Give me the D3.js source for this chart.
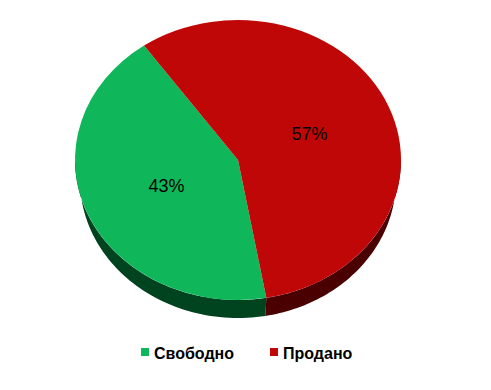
<!DOCTYPE html>
<html>
<head>
<meta charset="utf-8">
<script src="https://cdn.jsdelivr.net/npm/d3@7"></script>
<style>
  body { margin: 0; background: #fff; }
  svg { display: block; font-family: "Liberation Sans", Arial, sans-serif; }
</style>
</head>
<body>
<div id="chart"></div>
<script>
const categories = ['Свободно', 'Продано'];
const values = [43, 57];
const topColors = ['#0fb75a', '#c00707'];
const sideColors = ['#00431f', '#4a0000'];

const width = 491, height = 390;
const cx = 238, cy = 160, rx = 163, ry = 140, depth = 20;
// bottom rim is a bit narrower (perspective), so the wall fades out at the sides
const rxBottom = 158, ryBottom = 138;
const firstSliceAngle = 170;

const svg = d3.select('#chart').append('svg')
  .attr('width', width)
  .attr('height', height);

const pie = d3.pie()
  .sort(null)
  .value(d => d)
  .startAngle(firstSliceAngle * Math.PI / 180)
  .endAngle((firstSliceAngle + 360) * Math.PI / 180);

const slices = pie(values);

// point on ellipse for a d3 angle (0 = top, clockwise)
const px = (a, r = rx) => cx + r * Math.sin(a);
const py = (a, r = ry) => cy - r * Math.cos(a);

// side walls (front half only)
const sides = svg.append('g');
slices.forEach((s, i) => {
  const ranges = [];
  [0, 2 * Math.PI].forEach(off => {
    const lo = Math.max(s.startAngle, Math.PI / 2 + off);
    const hi = Math.min(s.endAngle, 3 * Math.PI / 2 + off);
    if (hi > lo) ranges.push([lo, hi]);
  });
  ranges.forEach(([lo, hi]) => {
    const n = 60;
    const angs = d3.range(n + 1).map(k => lo + (hi - lo) * k / n);
    const p = d3.path();
    angs.forEach((a, k) => k ? p.lineTo(px(a), py(a)) : p.moveTo(px(a), py(a)));
    angs.slice().reverse().forEach(a => p.lineTo(px(a, rxBottom), py(a, ryBottom) + depth));
    p.closePath();
    sides.append('path')
      .attr('d', p.toString())
      .attr('fill', sideColors[i]);
  });
});

// top face
const arc = d3.arc().innerRadius(0).outerRadius(100);
const topFace = svg.append('g')
  .attr('transform', `translate(${cx},${cy}) scale(${rx / 100},${ry / 100})`);
topFace.selectAll('path')
  .data(slices)
  .join('path')
  .attr('d', arc)
  .attr('fill', (d, i) => topColors[i]);

// labels
svg.append('g').selectAll('text')
  .data(slices)
  .join('text')
  .attr('x', d => cx + arc.centroid(d)[0] * rx / 100 * 0.95)
  .attr('y', d => cy + arc.centroid(d)[1] * ry / 100 * 0.95)
  .attr('text-anchor', 'middle')
  .attr('dominant-baseline', 'central')
  .attr('font-size', 18)
  .attr('fill', '#000')
  .text(d => Math.round(d.data / d3.sum(values) * 100) + '%');

// legend
const legendX = [141, 270];
const legend = svg.append('g').selectAll('g')
  .data(categories)
  .join('g')
  .attr('transform', (d, i) => `translate(${legendX[i]},352)`);
legend.append('rect')
  .attr('x', 0).attr('y', -4)
  .attr('width', 8).attr('height', 8)
  .attr('fill', (d, i) => topColors[i]);
legend.append('text')
  .attr('x', 13).attr('y', 1)
  .attr('dominant-baseline', 'central')
  .attr('font-size', 16)
  .attr('font-weight', 'bold')
  .attr('fill', '#000')
  .text(d => d);
</script>
</body>
</html>
